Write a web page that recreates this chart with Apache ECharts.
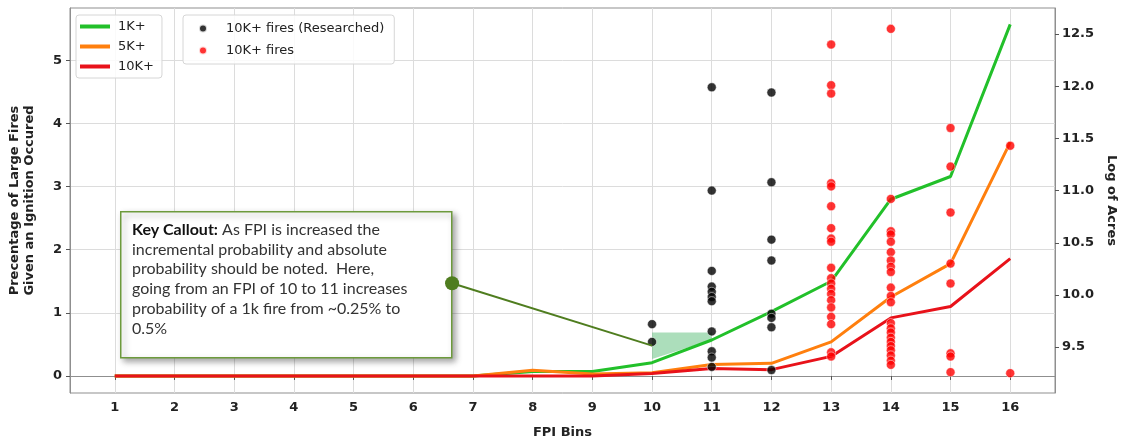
<!DOCTYPE html>
<html>
<head>
<meta charset="utf-8">
<script src="https://cdn.jsdelivr.net/npm/echarts@6/dist/echarts.min.js"></script>
<style>html,body{margin:0;padding:0;background:#fff}#c{width:1125px;height:440px}</style>
</head>
<body>
<div id="c"></div>
<script>
const fpiBins = [1,2,3,4,5,6,7,8,9,10,11,12,13,14,15,16];
const pct1k  = [0,0,0,0,0,0,0,0.07,0.07,0.21,0.57,1.02,1.5,2.8,3.16,5.57];
const pct5k  = [0,0,0,0,0,0,0,0.09,0.03,0.05,0.18,0.2,0.54,1.25,1.78,3.7];
const pct10k = [0,0,0,0,0,0,0,0,0,0.04,0.12,0.1,0.31,0.92,1.1,1.86];

const leftTicks = [0,1,2,3,4,5];
const rightTicks = [9.5,10,10.5,11,11.5,12,12.5];

const researchedBins = [10,10, 11,11,11,11,11,11,11,11,11,11,11, 12,12,12,12,12,12,12,12];
const researchedLogAcres = [9.72,9.55, 11.99,11.0,10.23,10.08,10.03,9.98,9.94,9.65,9.46,9.40,9.31, 11.94,11.08,10.53,10.33,9.82,9.78,9.69,9.28];

const fireBins = [13,13,13,13,13,13,13,13,13,13,13,13,13,13,13,13,13,13,13,13,
  14,14,14,14,14,14,14,14,14,14,14,14,14,14,14,14,14,14,14,14,14,14,
  15,15,15,15,15,15,15,15, 16,16];
const fireLogAcres = [12.40,12.01,11.93,11.07,11.04,10.85,10.64,10.54,10.51,10.26,10.16,10.11,10.06,10.01,9.95,9.88,9.79,9.72,9.45,9.41,
  12.55,10.92,10.61,10.58,10.51,10.41,10.33,10.27,10.22,10.07,9.99,9.93,9.73,9.68,9.64,9.59,9.55,9.51,9.47,9.42,9.37,9.33,
  11.60,11.23,10.79,10.30,10.11,9.44,9.41,9.26, 11.43,9.25];

const shadeX = [10,11,11,10];
const shadeY = [0.69,0.69,0.57,0.27];
const calloutX = [6.65,10];
const calloutY = [1.47,0.48];

const calloutText = '{b|Key Callout:} As FPI is increased the\nincremental probability and absolute\nprobability should be noted.  Here,\ngoing from an FPI of 10 to 11 increases\nprobability of a 1k fire from ~0.25% to\n0.5%';

const chart = echarts.init(document.getElementById('c'), null, {renderer:'canvas'});
const font = 'DejaVu Sans';
const pairs = (xs, ys) => xs.map((x,i)=>[x, ys[i]]);
const labelStyle = {fontFamily:font,fontSize:13,fontWeight:'bold',color:'#222'};

chart.setOption({
  animation:false,
  backgroundColor:'#fff',
  grid:{left:70,right:70,top:8,bottom:47,outerBoundsMode:'none',containLabel:false,
        show:true,borderColor:'#8f8f8f',borderWidth:1,backgroundColor:'transparent'},
  legend:[
    {data:['1K+','5K+','10K+'],orient:'vertical',left:76,top:15,itemWidth:30,itemHeight:4,icon:'rect',itemGap:5,
     padding:[4,8,4,4],backgroundColor:'rgba(255,255,255,0.85)',borderColor:'#d6d6d6',borderWidth:1,borderRadius:3,
     textStyle:{fontFamily:font,fontSize:13,color:'#222',lineHeight:15,padding:[0,0,0,3]}},
    {data:['10K+ fires (Researched)','10K+ fires'],orient:'vertical',left:183,top:15,itemWidth:8,itemHeight:8,icon:'circle',itemGap:7,
     padding:[6,10,6,15],backgroundColor:'rgba(255,255,255,0.85)',borderColor:'#d6d6d6',borderWidth:1,borderRadius:3,
     textStyle:{fontFamily:font,fontSize:13,color:'#222',lineHeight:15,padding:[0,0,0,14]}}
  ],
  xAxis:{type:'value',min:0.25,max:16.75,
    name:'FPI Bins',nameLocation:'middle',nameGap:33,
    nameTextStyle:labelStyle,
    axisLine:{show:true,lineStyle:{color:'#8f8f8f'}},
    axisTick:{show:true,length:4,lineStyle:{color:'#555'},customValues:fpiBins},
    axisLabel:Object.assign({margin:8,customValues:fpiBins},labelStyle),
    splitLine:{show:true,lineStyle:{color:'#dcdcdc',width:1}}},
  yAxis:[
    {type:'value',min:-0.27,max:5.83,position:'left',
     name:'Precentage of Large Fires\nGiven an Ignition Occured',nameLocation:'middle',nameGap:33,nameRotate:90,
     nameTextStyle:Object.assign({lineHeight:15},labelStyle),
     axisLine:{show:true,lineStyle:{color:'#8f8f8f'}},
     axisTick:{show:true,length:4,lineStyle:{color:'#555'},customValues:leftTicks},
     axisLabel:Object.assign({margin:8,customValues:leftTicks},labelStyle),
     splitLine:{show:true,lineStyle:{color:'#dcdcdc',width:1}}},
    {type:'value',min:9.06,max:12.75,position:'right',
     name:'Log of Acres',nameLocation:'middle',nameGap:48,nameRotate:-90,
     nameTextStyle:labelStyle,
     axisLine:{show:true,lineStyle:{color:'#8f8f8f'}},
     axisTick:{show:true,length:4,lineStyle:{color:'#555'},customValues:rightTicks},
     axisLabel:Object.assign({margin:7,customValues:rightTicks,formatter:v=>Number(v).toFixed(1)},labelStyle),
     splitLine:{show:false}}
  ],
  graphic:{
    elements:[
      {type:'rect',left:120,top:211,z:50,zlevel:0,shape:{x:0,y:0,width:331,height:146},
       style:{fill:'#fff',stroke:'#6d9a3c',lineWidth:1.5,shadowBlur:6,shadowOffsetX:3,shadowOffsetY:3,shadowColor:'rgba(0,0,0,0.35)'}},
      {type:'text',left:132,top:220,z:51,zlevel:0,
       style:{text:calloutText,fontFamily:'Lato',fontSize:16,lineHeight:19.7,fill:'#333',
         rich:{b:{fontFamily:'Lato',fontSize:16,fontWeight:'bold',fill:'#111',lineHeight:19.7}}}}
    ]
  },
  series:[
    {type:'custom',name:'shade',xAxisIndex:0,yAxisIndex:0,data:[[10,0.5]],z:1,silent:true,
     renderItem:(params,api)=>({type:'polygon',
       shape:{points:pairs(shadeX,shadeY).map(p=>api.coord(p))},
       style:{fill:'rgba(90,190,120,0.5)'}})},
    {type:'line',name:'1K+',data:pairs(fpiBins,pct1k),yAxisIndex:0,symbol:'none',z:3,
     lineStyle:{color:'#22c02a',width:3},itemStyle:{color:'#22c02a'}},
    {type:'line',name:'5K+',data:pairs(fpiBins,pct5k),yAxisIndex:0,symbol:'none',z:3,
     lineStyle:{color:'#ff7f0e',width:3},itemStyle:{color:'#ff7f0e'}},
    {type:'line',name:'10K+',data:pairs(fpiBins,pct10k),yAxisIndex:0,symbol:'none',z:3,
     lineStyle:{color:'#e8121a',width:3},itemStyle:{color:'#e8121a'}},
    {type:'line',name:'callout',data:[
        {value:[calloutX[0],calloutY[0]],symbol:'circle',symbolSize:14},
        {value:[calloutX[1],calloutY[1]],symbol:'none'}],
     yAxisIndex:0,z:60,showSymbol:true,
     lineStyle:{color:'#4f7d1f',width:2},itemStyle:{color:'#4f7d1f'}},
    {type:'scatter',name:'10K+ fires (Researched)',data:pairs(researchedBins,researchedLogAcres),yAxisIndex:1,z:5,
     symbolSize:9,itemStyle:{color:'#000',borderColor:'#fff',borderWidth:0.6}},
    {type:'scatter',name:'10K+ fires',data:pairs(fireBins,fireLogAcres),yAxisIndex:1,z:5,
     symbolSize:9,itemStyle:{color:'#f00',borderColor:'#fff',borderWidth:0.6}}
  ]
});
</script>
</body>
</html>
